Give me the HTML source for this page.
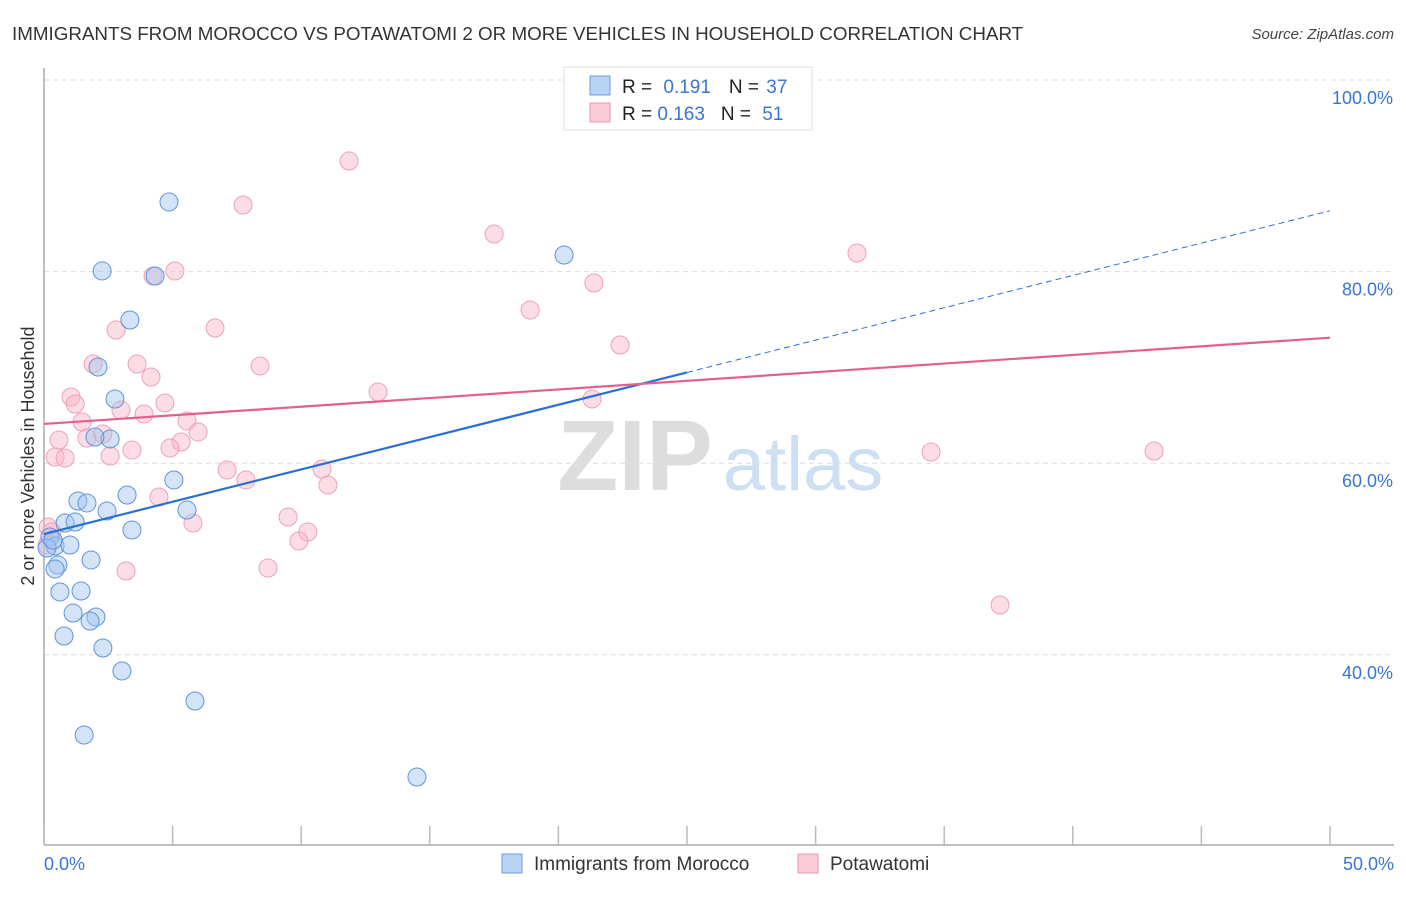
<!DOCTYPE html>
<html><head><meta charset="utf-8"><style>
body{margin:0;background:#fff;font-family:"Liberation Sans",sans-serif;}
svg text{font-family:"Liberation Sans",sans-serif;}
</style></head><body>
<svg id="chart" width="1406" height="892" viewBox="0 0 1406 892" xmlns="http://www.w3.org/2000/svg">
<text x="12" y="40" font-size="18.8" fill="#333">IMMIGRANTS FROM MOROCCO VS POTAWATOMI 2 OR MORE VEHICLES IN HOUSEHOLD CORRELATION CHART</text>
<text x="1394" y="39" font-size="15" fill="#444" font-style="italic" text-anchor="end">Source: ZipAtlas.com</text>
<g id="grid"></g>
<g>
<text x="635" y="490" font-size="100" fill="#ddd" font-family="Liberation Serif" text-anchor="middle" font-weight="bold">ZIP</text>
<text x="803" y="490" font-size="76" fill="#cddff2" text-anchor="middle">atlas</text>
</g>
<line x1="44" y1="68" x2="44" y2="845" stroke="#aaa" stroke-width="1.5"/>
<line x1="44" y1="845" x2="1394" y2="845" stroke="#aaa" stroke-width="1.5"/>
<g id="xticks"></g>
<g id="yticks"></g>
<text x="34" y="456" font-size="18" fill="#333" text-anchor="middle" transform="rotate(-90 34 456)">2 or more Vehicles in Household</text>
<text x="44" y="870" font-size="18" fill="#3a75d4">0.0%</text>
<text x="1394" y="870" font-size="18" fill="#3a75d4" text-anchor="end">50.0%</text>
<g id="pts"></g>
<g id="trends"></g>
<g>
<rect x="564" y="67" width="248" height="63" fill="#fff" stroke="#ddd"/>
<rect x="590" y="76" width="20" height="19" fill="#b9d3f5" stroke="#6a9be0"/>
<rect x="590" y="103" width="20" height="19" fill="#fbcad8" stroke="#ee9ab3"/>
<text x="622" y="93" font-size="19" fill="#222">R = <tspan fill="#3a75d4" dx="6">0.191</tspan><tspan dx="18">N = </tspan><tspan fill="#3a75d4" dx="2">37</tspan></text>
<text x="622" y="120" font-size="19" fill="#222">R = <tspan fill="#3a75d4">0.163</tspan><tspan dx="16">N = </tspan><tspan fill="#3a75d4" dx="6">51</tspan></text>
</g>
<g>
<rect x="502" y="854" width="20" height="19" fill="#b9d3f5" stroke="#6a9be0"/>
<text x="534" y="870" font-size="19" fill="#333">Immigrants from Morocco</text>
<rect x="798" y="854" width="20" height="19" fill="#fbcad8" stroke="#ee9ab3"/>
<text x="830" y="870" font-size="19" fill="#333">Potawatomi</text>
</g>
</svg>
<script>
const blueX=[4.86,2.26,4.32,3.34,2.10,2.76,2.57,1.98,5.05,1.32,1.67,3.23,2.45,5.56,3.42,0.82,1.21,0.23,0.43,0.12,1.01,1.83,0.54,0.43,0.62,1.44,1.13,2.02,1.79,0.78,2.29,3.03,5.87,1.56,14.50,20.22,0.35];
const blueY=[87.27,80.07,79.54,74.95,70.04,66.70,62.53,62.73,58.25,56.05,55.85,56.68,55.01,55.11,53.03,53.76,53.86,52.30,51.36,51.15,51.46,49.90,49.37,48.96,46.56,46.66,44.36,43.95,43.53,41.96,40.71,38.31,35.18,31.63,27.24,81.73,51.98];
const pinkX=[11.86,7.74,17.50,31.61,5.09,4.24,21.38,18.90,2.80,6.65,22.40,1.91,3.62,8.40,4.16,1.05,12.99,1.21,4.70,2.99,3.89,1.48,5.56,2.29,5.99,1.67,5.33,0.58,3.42,4.90,2.57,0.43,0.82,34.49,43.16,7.12,10.81,7.85,11.04,4.47,5.79,9.49,10.26,9.91,3.19,8.71,37.17,21.31,0.16,0.31,0.12];
const pinkY=[91.54,86.95,83.92,81.94,80.06,79.54,78.81,75.99,73.90,74.11,72.34,70.35,70.35,70.15,69.00,66.91,67.43,66.18,66.28,65.55,65.14,64.30,64.41,63.05,63.26,62.63,62.21,62.42,61.38,61.59,60.75,60.65,60.54,61.17,61.27,59.29,59.39,58.25,57.72,56.47,53.76,54.38,52.82,51.88,48.75,49.06,45.20,66.70,53.34,52.82,51.46];
const blueTrend=[52.6,0.675];
const pinkTrend=[64.1,0.18];
const yTicks=[40,60,80,100];
const yTickLabels=["40.0%","60.0%","80.0%","100.0%"];
const xTicks=[0,5,10,15,20,25,30,35,40,45,50];
const NS="http://www.w3.org/2000/svg";
const sx=v=>44+v*25.72;
const sy=v=>80+(100-v)*9.58;
function mk(tag,attrs,parent){const e=document.createElementNS(NS,tag);for(const k in attrs)e.setAttribute(k,attrs[k]);parent.appendChild(e);return e;}
const grid=document.getElementById('grid'),yt=document.getElementById('yticks'),xt=document.getElementById('xticks');
yTicks.forEach((v,i)=>{
 const l=mk('line',{x1:44,x2:1393,y1:sy(v),y2:sy(v),stroke:'#ddd','stroke-dasharray':'5,4'},grid);
 
 
 const t=mk('text',{x:1393,y:sy(v)+24,'font-size':18,fill:'#3a75d4','text-anchor':'end'},yt);
 t.textContent=yTickLabels[i];
 
 
});
xTicks.forEach(v=>{
 const l=mk('line',{x1:sx(v),x2:sx(v),y1:826,y2:845,stroke:'#bbb','stroke-width':1.5},xt);
 
 
});
const pts=document.getElementById('pts');
pinkX.forEach((x,i)=>{
 const c=mk('circle',{cx:sx(x),cy:sy(pinkY[i]),r:9,fill:'rgba(248,180,200,0.45)',stroke:'#eea0b8','stroke-width':1},pts);
 
 
});
blueX.forEach((x,i)=>{
 const c=mk('circle',{cx:sx(x),cy:sy(blueY[i]),r:9,fill:'rgba(160,195,240,0.45)',stroke:'#5f93dc','stroke-width':1},pts);
 
 
});
const tr=document.getElementById('trends');
const bf=x=>blueTrend[0]+blueTrend[1]*x, pf=x=>pinkTrend[0]+pinkTrend[1]*x;
let l=mk('line',{x1:sx(0),y1:sy(bf(0)),x2:sx(25),y2:sy(bf(25)),stroke:'#2a6fd6','stroke-width':2.2},tr);


l=mk('line',{x1:sx(25),y1:sy(bf(25)),x2:sx(50),y2:sy(bf(50)),stroke:'#2a6fd6','stroke-width':1,'stroke-dasharray':'6,4'},tr);


l=mk('line',{x1:sx(0),y1:sy(pf(0)),x2:sx(50),y2:sy(pf(50)),stroke:'#e4608c','stroke-width':2.2},tr);


</script>
</body></html>
